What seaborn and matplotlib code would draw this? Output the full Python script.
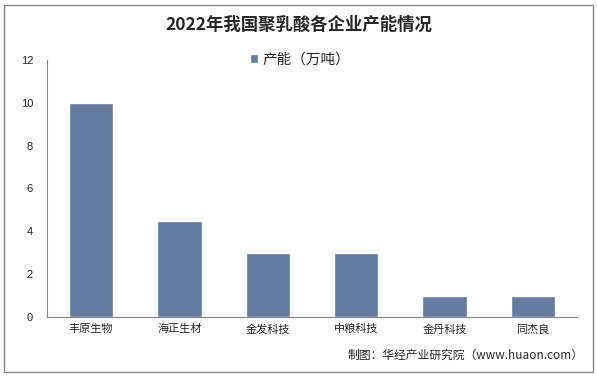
import numpy as np
import pandas as pd
import matplotlib.pyplot as plt
import seaborn as sns

companies = ['丰原生物', '海正生材', '金发科技', '中粮科技', '金丹科技', '同杰良']
capacity = [10, 4.5, 3, 3, 1, 1]
series_name = '产能（万吨）'

sns.set_style('white')
plt.rcParams['font.family'] = ['Noto Sans CJK SC', 'DejaVu Sans']

df = pd.DataFrame({'company': companies, 'capacity': capacity})

fig = plt.figure(figsize=(5.97, 3.77), dpi=100)
ax = fig.add_axes([0.0787, 0.159, 0.8878, 0.682])

sns.barplot(data=df, x='company', y='capacity', color='#667ba0', width=0.5,
            saturation=1, ax=ax, label=series_name)

ax.set_ylim(0, 12)
ax.set_yticks(range(0, 13, 2))
ax.set_xlim(-0.5, len(companies) - 0.5)
ax.set_xlabel('')
ax.set_ylabel('')
for side in ['top', 'right']:
    ax.spines[side].set_visible(False)
for side in ['left', 'bottom']:
    ax.spines[side].set_color('#888888')
    ax.spines[side].set_linewidth(0.8)

ax.tick_params(axis='y', length=4, color='#888888', labelsize=8, pad=6)
ax.tick_params(axis='x', length=0, labelsize=8, pad=5)
ax.set_xticks(np.arange(-0.5, len(companies), 1), minor=True)
ax.tick_params(axis='x', which='minor', length=4, color='#888888', direction='out')
for lab in ax.get_yticklabels():
    lab.set_fontfamily('Liberation Sans')

ax.legend(loc='center', bbox_to_anchor=(0.477, 1.0), frameon=False,
          fontsize=10.5, handlelength=0.55, handleheight=0.55, handletextpad=0.3)

fig.text(0.5, 0.935, '2022年我国聚乳酸各企业产能情况', ha='center', va='center',
         fontsize=12.5, fontweight='bold', family=['Noto Sans CJK SC', 'DejaVu Sans'])
fig.text(0.978, 0.058, '制图：华经产业研究院（www.huaon.com）', ha='right', va='center',
         fontsize=8.5)

border = plt.Rectangle((0.006, 0.013), 0.988, 0.974, transform=fig.transFigure,
                       fill=False, edgecolor='#888888', linewidth=1)
fig.patches.append(border)

fig.savefig('out.png', dpi=100)
